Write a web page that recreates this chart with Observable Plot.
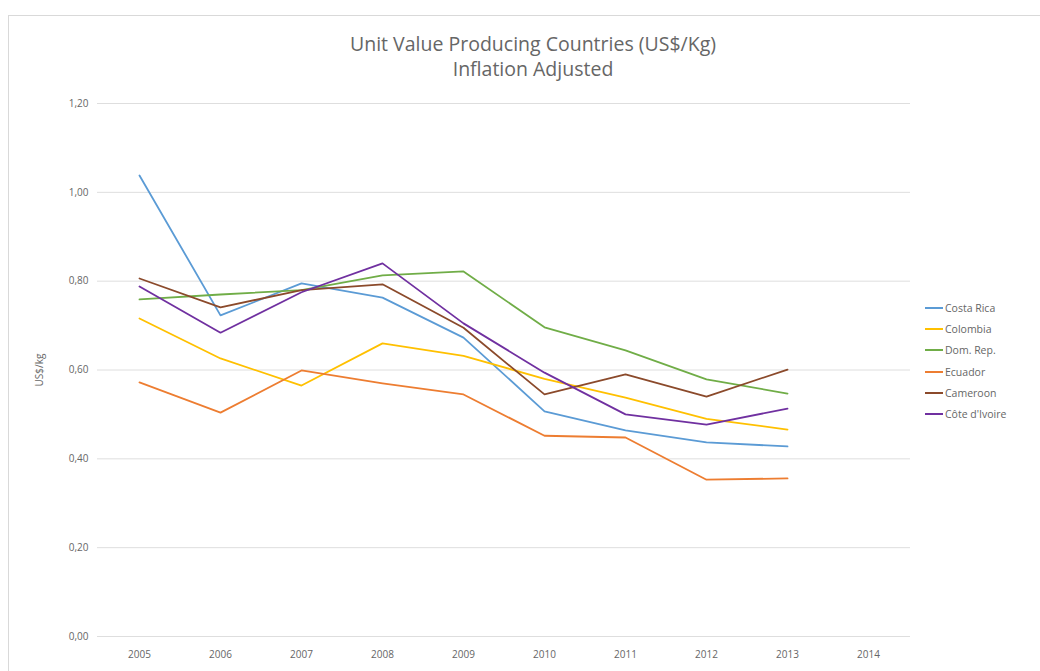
<!DOCTYPE html>
<html><head><meta charset="utf-8">
<script src="https://cdn.jsdelivr.net/npm/d3@7"></script>
<script src="https://cdn.jsdelivr.net/npm/@observablehq/plot@0.6"></script>
<style>
body{margin:0;background:#fff;font-family:"Open Sans",sans-serif;width:1040px;height:671px;overflow:hidden;position:relative;}
#frame{position:absolute;left:8px;top:15px;width:1100px;height:700px;border:1px solid #d9d9d9;}
#title{position:absolute;left:0;width:1066px;top:31px;text-align:center;color:#666;font-size:19.5px;line-height:25px;}
#chart{position:absolute;left:0;top:90px;}
#legend{position:absolute;left:925px;top:297px;font-size:10.5px;color:#666;}
.item{display:flex;align-items:center;height:21.3px;white-space:nowrap;}
.sw{width:18px;height:2px;margin-right:2px;}
</style></head>
<body>
<div id="frame"></div>
<div id="title">Unit Value Producing Countries (US$/Kg)<br>Inflation Adjusted</div>
<div id="chart"></div>
<div id="legend"></div>
<script>
const years = ["2005","2006","2007","2008","2009","2010","2011","2012","2013","2014"];
const dataYears = ["2005","2006","2007","2008","2009","2010","2011","2012","2013"];
const countries = ["Costa Rica","Colombia","Dom. Rep.","Ecuador","Cameroon","Côte d'Ivoire"];
const colors = ["#5B9BD5","#FFC000","#70AD47","#ED7D31","#8B4A2B","#7030A0"];
const costaRica = [1.038, 0.723, 0.795, 0.763, 0.673, 0.507, 0.464, 0.437, 0.428];
const colombia  = [0.716, 0.626, 0.565, 0.660, 0.632, 0.580, 0.538, 0.490, 0.466];
const domRep    = [0.759, 0.770, 0.780, 0.813, 0.822, 0.696, 0.644, 0.579, 0.547];
const ecuador   = [0.572, 0.504, 0.599, 0.570, 0.545, 0.452, 0.448, 0.353, 0.356];
const cameroon  = [0.806, 0.741, 0.780, 0.793, 0.695, 0.545, 0.590, 0.540, 0.601];
const coteIvoire= [0.788, 0.684, 0.775, 0.840, 0.705, 0.594, 0.500, 0.477, 0.513];
const yTicks = [0, 0.2, 0.4, 0.6, 0.8, 1.0, 1.2];

const series = [costaRica, colombia, domRep, ecuador, cameroon, coteIvoire];
const rows = [];
series.forEach((vals, i) => vals.forEach((v, j) => rows.push({country: countries[i], year: dataYears[j], value: v})));

const chart = Plot.plot({
  width: 1040, height: 581,
  marginLeft: 97, marginRight: 130, marginTop: 13, marginBottom: 35,
  style: {fontFamily: "'Open Sans', sans-serif", fontSize: "10px", color: "#666", background: "transparent"},
  x: {type: "point", domain: years, padding: 0.5},
  y: {domain: [0, 1.2]},
  color: {domain: countries, range: colors},
  marks: [
    Plot.ruleY(yTicks, {stroke: "#dedede", strokeWidth: 1}),
    Plot.axisY({ticks: yTicks, tickSize: 0, tickPadding: 9, tickFormat: d => d.toFixed(2).replace(".", ","),
      label: "US$/kg", labelAnchor: "center", labelArrow: "none", labelOffset: 62}),
    Plot.axisX({tickSize: 0, tickPadding: 14, label: null}),
    Plot.line(rows, {x: "year", y: "value", z: "country", stroke: "country", strokeWidth: 1.8})
  ]
});
document.getElementById("chart").appendChild(chart);

const lg = document.getElementById("legend");
countries.forEach((c, i) => {
  const it = document.createElement("div"); it.className = "item";
  const sw = document.createElement("span"); sw.className = "sw"; sw.style.background = colors[i];
  const t = document.createElement("span"); t.textContent = c;
  it.appendChild(sw); it.appendChild(t); lg.appendChild(it);
});
</script>
</body></html>
